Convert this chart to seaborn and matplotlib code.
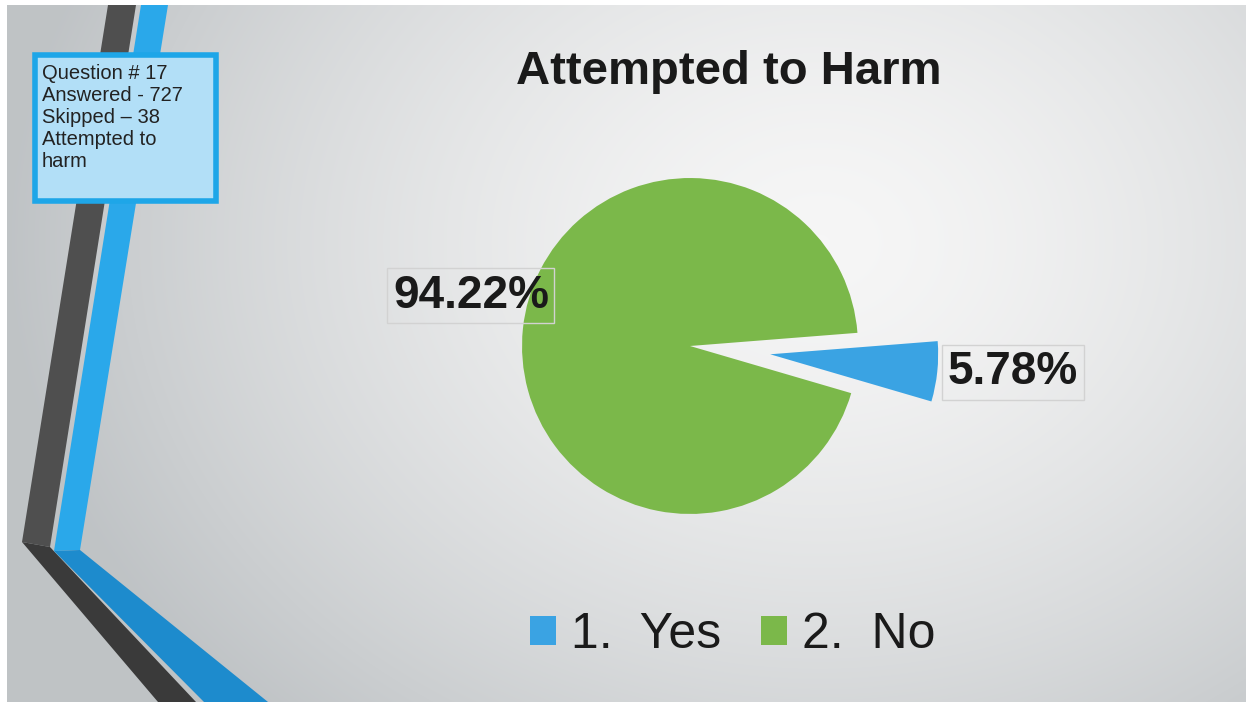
import numpy as np
import matplotlib
matplotlib.use("Agg")
import matplotlib.pyplot as plt
from matplotlib.patches import Polygon, Rectangle
import seaborn as sns

# Data
categories = ["1.  Yes", "2.  No"]
shares = [5.78, 94.22]
colors = ["#3aa3e3", "#7bb84a"]
title = "Attempted to Harm"
info_lines = ["Question # 17", "Answered - 727", "Skipped \u2013 38", "Attempted to", "harm"]

sns.set_style("white")
plt.rcParams["font.family"] = ["Liberation Sans", "DejaVu Sans"]

W, H = 1251, 704
fig = plt.figure(figsize=(W / 100, H / 100), dpi=100, facecolor="white")

# slide background, drawn in pixel coordinates
bg = fig.add_axes([0, 0, 1, 1], zorder=-1)
yy, xx = np.mgrid[0:H, 0:W]
d = np.hypot(xx - 820, (yy - 240) * 1.25) / 820
d = np.clip(d, 0, 1) ** 1.5
c0 = np.array([0.965, 0.965, 0.965])
c1 = np.array([0.75, 0.765, 0.775])
img = c0 + (c1 - c0) * d[..., None]
bg.imshow(img, extent=(7, 1246, 702, 5), aspect="auto", zorder=0)
bg.set_xlim(0, W)
bg.set_ylim(H, 0)
bg.axis("off")

# decorative stripes
stripes = [
    ([(108, 5), (136, 5), (50, 547), (22, 542)], "#4f4f4f"),
    ([(22, 542), (50, 547), (196, 702), (158, 702)], "#3a3a3a"),
    ([(141, 5), (168, 5), (80, 550), (54, 551)], "#2aa8ea"),
    ([(54, 551), (80, 550), (268, 702), (204, 702)], "#1d8bcd"),
]
for pts, col in stripes:
    bg.add_patch(Polygon(pts, closed=True, fc=col, ec="none", zorder=1))

# info box
bg.add_patch(Rectangle((35, 55), 181, 146, fc="#b2dff7", ec="#1ea6e8", lw=4, zorder=3))
bg.text(42, 64, "\n".join(info_lines), va="top", ha="left", fontsize=14.5,
        linespacing=1.2, color="#222222", zorder=4)

# pie
ax = fig.add_axes([(690 - 280) / W, (H - 346 - 280) / H, 560 / W, 560 / H], zorder=1)
wedges, _ = ax.pie(shares, colors=colors, startangle=4.5, counterclock=False,
                   explode=[0.48, 0], radius=1, wedgeprops=dict(linewidth=0))
ax.set_xlim(-1.667, 1.667)
ax.set_ylim(-1.667, 1.667)
ax.axis("off")

box = dict(boxstyle="square,pad=0.12", fc="none", ec="#d2d2d2", lw=1)
ax.text(-1.304, 0.30, f"{shares[1]:.2f}%", ha="center", va="center", fontsize=33,
        fontweight="bold", color="#1a1a1a", bbox=box)
ax.text(1.923, -0.155, f"{shares[0]:.2f}%", ha="center", va="center", fontsize=33,
        fontweight="bold", color="#1a1a1a", bbox=box)

fig.text(729 / W, 1 - 72 / H, title, ha="center", va="center", fontsize=34,
         fontweight="bold", color="#1a1a1a")

handles = [Rectangle((0, 0), 1, 1, fc=c, ec="none") for c in colors]
fig.legend(handles, categories, loc="center", bbox_to_anchor=(733 / W, 1 - 635 / H),
           ncol=2, frameon=False, fontsize=36, handlelength=0.52, handleheight=0.52,
           handletextpad=0.3, columnspacing=0.8, labelcolor="#1a1a1a")

fig.savefig("out.png", dpi=100)
